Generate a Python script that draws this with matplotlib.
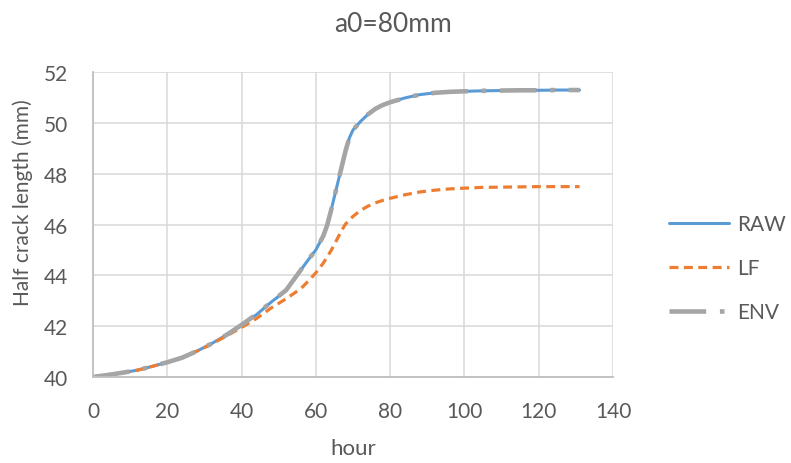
import numpy as np
import matplotlib
matplotlib.use("Agg")
from matplotlib import pyplot as plt

# values
hours = [0, 4, 8, 12, 16, 20, 24, 28, 32, 36, 40, 44, 48, 52, 56, 58, 60, 62, 63, 64,
         65, 66, 67, 68, 69, 70, 72, 74, 76, 78, 80, 84, 88, 92, 96, 100, 105, 110,
         115, 120, 125, 131]
raw = [40.00, 40.08, 40.17, 40.27, 40.42, 40.58, 40.76, 41.02, 41.32, 41.66, 42.05,
       42.45, 42.95, 43.40, 44.22, 44.62, 45.00, 45.55, 45.95, 46.50, 47.10, 47.70,
       48.30, 48.90, 49.40, 49.72, 50.05, 50.33, 50.55, 50.70, 50.81, 50.98, 51.11,
       51.18, 51.22, 51.24, 51.26, 51.27, 51.28, 51.28, 51.29, 51.29]
lf = [40.00, 40.08, 40.17, 40.27, 40.42, 40.58, 40.76, 41.02, 41.30, 41.62, 41.95,
      42.30, 42.72, 43.08, 43.48, 43.78, 44.10, 44.48, 44.72, 44.95, 45.22, 45.50,
      45.78, 46.02, 46.18, 46.32, 46.55, 46.72, 46.85, 46.95, 47.03, 47.17, 47.28,
      47.35, 47.40, 47.43, 47.46, 47.47, 47.48, 47.49, 47.49, 47.49]
env = [40.00, 40.08, 40.17, 40.27, 40.42, 40.58, 40.76, 41.02, 41.32, 41.66, 42.05,
       42.47, 42.95, 43.42, 44.22, 44.62, 45.00, 45.55, 45.95, 46.50, 47.10, 47.70,
       48.30, 48.90, 49.40, 49.72, 50.05, 50.33, 50.55, 50.70, 50.81, 50.98, 51.11,
       51.18, 51.22, 51.24, 51.26, 51.27, 51.28, 51.28, 51.29, 51.29]
labels = ["RAW", "LF", "ENV"]
xticks = [0, 20, 40, 60, 80, 100, 120, 140]
yticks = [40, 42, 44, 46, 48, 50, 52]

plt.rcParams['font.family'] = ['Lato', 'DejaVu Sans']
txt_col = '#595959'

fig = plt.figure(figsize=(7.91, 4.64), dpi=100)
ax = fig.add_axes([93/791, 1-378/464, (613-93)/791, (378-73)/464])

ax.plot(hours, raw, color='#5B9BD5', lw=2.2, solid_capstyle='round', label=labels[0])
ax.plot(hours, lf, color='#ED7D31', lw=2.3, dashes=(2.8, 1.7), dash_capstyle='butt',
        label=labels[1])
ax.plot(hours, env, color='#A5A5A5', lw=3.3, dashes=(8, 3, 1, 3), dash_capstyle='butt',
        label=labels[2])

ax.set_xlim(0, 140)
ax.set_ylim(40, 52)
ax.set_xticks(xticks)
ax.set_yticks(yticks)
ax.grid(True, color='#D9D9D9', lw=1.1)
ax.set_axisbelow(True)
for s in ['top', 'right']:
    ax.spines[s].set_visible(False)
for s in ['left', 'bottom']:
    ax.spines[s].set_color('#BFBFBF')
    ax.spines[s].set_linewidth(1.3)
ax.tick_params(length=0, labelsize=15, labelcolor=txt_col)
ax.tick_params(axis='y', pad=18)
ax.tick_params(axis='x', pad=17)

fig.text(0.497, 1-25/464, 'a0=80mm', ha='center', va='center', fontsize=19, color=txt_col)
fig.text(23/791, 1-203/464, 'Half crack length (mm)', rotation=90, ha='center',
         va='center', fontsize=15, color=txt_col)
fig.text(353/791, 1-449/464, 'hour', ha='center', va='center', fontsize=16, color=txt_col)

fig.legend(loc='center left', bbox_to_anchor=(669/791, 1-269/464), frameon=False,
           fontsize=15, labelcolor=txt_col, handlelength=2.9, handletextpad=0.35,
           labelspacing=1.15, borderpad=0, borderaxespad=0)

fig.savefig('out.png', dpi=100)
